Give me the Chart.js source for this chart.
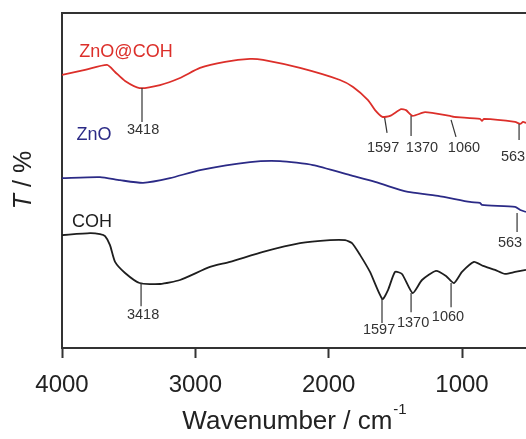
<!DOCTYPE html>
<html>
<head>
<meta charset="utf-8">
<script src="https://cdn.jsdelivr.net/npm/chart.js@4"></script>
<style>
  html, body { margin: 0; padding: 0; background: #fff; }
  #wrap { width: 526px; height: 439px; }
</style>
</head>
<body>
<div id="wrap"><canvas id="ftir"></canvas></div>
<script>
// Données (nombre d'onde en cm-1, T en unités arbitraires)
const WAVE_ZNOCOH = [4000, 3827, 3662, 3602, 3527, 3418, 3265, 3115, 2965, 2777, 2590, 2492, 2215, 1915, 1817, 1705, 1652, 1597, 1540, 1457, 1420, 1370, 1277, 1090, 1060, 865, 850, 835, 602, 563, 542, 520]
const T_ZNOCOH    = [81.5, 83.0, 84.5, 82.4, 79.7, 77.6, 78.5, 80.6, 83.6, 85.4, 86.3, 86.0, 83.6, 80.0, 77.9, 74.0, 71.0, 69.0, 69.3, 71.3, 71.0, 69.3, 70.4, 69.3, 69.0, 68.4, 67.8, 68.4, 67.5, 66.9, 67.5, 67.2]

const WAVE_ZNO = [4000, 3715, 3565, 3392, 3190, 2965, 2590, 2365, 2117, 1840, 1652, 1465, 1405, 1180, 940, 865, 850, 602, 563, 520]
const T_ZNO    = [50.7, 51.0, 50.1, 49.3, 50.7, 53.1, 55.5, 55.8, 54.6, 51.6, 49.6, 47.2, 46.6, 45.4, 43.6, 43.3, 42.7, 42.1, 41.2, 40.6]

const WAVE_COH = [4000, 3790, 3715, 3677, 3640, 3602, 3527, 3418, 3265, 3115, 2890, 2740, 2492, 2215, 1990, 1877, 1825, 1765, 1690, 1597, 1555, 1502, 1450, 1370, 1300, 1195, 1120, 1060, 1000, 910, 842, 752, 677, 602, 520]
const T_COH    = [33.7, 34.3, 34.0, 33.4, 30.7, 25.7, 22.4, 19.4, 19.1, 20.3, 24.2, 25.7, 28.7, 31.3, 32.2, 32.2, 31.3, 27.8, 22.7, 14.6, 17.3, 22.7, 22.1, 16.4, 20.3, 23.0, 21.5, 19.4, 22.7, 25.7, 24.5, 23.3, 22.1, 22.7, 23.3]

const X_TICKS = [4000, 3000, 2000, 1000]

// Pics annotés : [texte, nombre d'onde trait, T début, nombre d'onde fin, T fin, nombre d'onde texte, T texte]
const PEAKS = [
    ["3418", 3400, 77.6, 3400, 67.5, 3392, 65.1],
    ["1597", 1580, 68.7, 1562, 64.2, 1592, 59.7],
    ["1370", 1382, 69.3, 1382, 63.3, 1300, 59.7],
    ["1060", 1082, 68.1, 1045, 63.0, 985, 59.7],
    ["563", 572, 66.9, 572, 62.1, 617, 57.0],
    ["563", 587, 40.3, 587, 34.6, 640, 31.3],
    ["3418", 3407, 19.4, 3407, 12.5, 3392, 9.9],
    ["1597", 1600, 14.9, 1600, 7.5, 1622, 5.4],
    ["1370", 1382, 16.4, 1382, 10.7, 1367, 7.5],
    ["1060", 1082, 19.4, 1082, 12.2, 1105, 9.3]
]

// Noms des échantillons : [texte, nombre d'onde, T, couleur]
const NOMS = [
    ["ZnO@COH", 3520, 88.4, "#dc2f2a"],
    ["ZnO", 3760, 63.6, "#2b2a86"],
    ["COH", 3775, 37.6, "#1e1e1e"]
]

function pts(xs, ys) {
    return xs.map((x, i) => ({x: x, y: ys[i]}))
}

const POLICE = "'Liberation Sans', Arial, sans-serif"

// plugin maison pour les annotations + titres
const annotations = {
    id: "annotations",
    afterDatasetsDraw(chart) {
        const ctx = chart.ctx
        const sx = chart.scales.x
        const sy = chart.scales.y
        const area = chart.chartArea
        ctx.save()
        // cadre du haut
        ctx.strokeStyle = "#333"
        ctx.lineWidth = 2
        ctx.beginPath()
        ctx.moveTo(area.left - 1, area.top)
        ctx.lineTo(area.right, area.top)
        ctx.stroke()

        ctx.lineWidth = 1.2
        ctx.strokeStyle = "#333"
        ctx.fillStyle = "#333"
        ctx.font = "14.5px " + POLICE
        ctx.textAlign = "center"
        ctx.textBaseline = "middle"
        PEAKS.forEach(p => {
            ctx.beginPath()
            ctx.moveTo(sx.getPixelForValue(p[1]), sy.getPixelForValue(p[2]))
            ctx.lineTo(sx.getPixelForValue(p[3]), sy.getPixelForValue(p[4]))
            ctx.stroke()
            ctx.fillText(p[0], sx.getPixelForValue(p[5]), sy.getPixelForValue(p[6]))
        })

        ctx.font = "18px " + POLICE
        NOMS.forEach(n => {
            ctx.fillStyle = n[3]
            ctx.fillText(n[0], sx.getPixelForValue(n[1]), sy.getPixelForValue(n[2]))
        })

        // titre axe x avec exposant
        ctx.fillStyle = "#222"
        ctx.textAlign = "left"
        ctx.textBaseline = "alphabetic"
        ctx.font = "26px " + POLICE
        const base = "Wavenumber / cm"
        const w1 = ctx.measureText(base).width
        ctx.font = "15px " + POLICE
        const w2 = ctx.measureText("-1").width
        const x0 = (area.left + area.right) / 2 - (w1 + w2) / 2
        ctx.font = "26px " + POLICE
        ctx.fillText(base, x0, 429)
        ctx.font = "15px " + POLICE
        ctx.fillText("-1", x0 + w1 + 1, 414)

        // titre axe y : T en italique
        ctx.translate(24, 180)
        ctx.rotate(-Math.PI / 2)
        ctx.font = "italic 25px " + POLICE
        const wt = ctx.measureText("T").width
        ctx.font = "25px " + POLICE
        const wr = ctx.measureText(" / %").width
        ctx.textBaseline = "middle"
        ctx.font = "italic 25px " + POLICE
        ctx.fillText("T", -(wt + wr) / 2, 0)
        ctx.font = "25px " + POLICE
        ctx.fillText(" / %", -(wt + wr) / 2 + wt, 0)
        ctx.restore()
    }
}

const ftirCanvas = document.getElementById("ftir")
const ftirChart = new Chart(ftirCanvas, {
    type: "line",
    data: {
        datasets: [
            {data: pts(WAVE_ZNOCOH, T_ZNOCOH), borderColor: "#dc2f2a"},
            {data: pts(WAVE_ZNO, T_ZNO), borderColor: "#2b2a86"},
            {data: pts(WAVE_COH, T_COH), borderColor: "#1e1e1e"}
        ]
    },
    options: {
        responsive: true,
        maintainAspectRatio: false,
        animation: false,
        layout: {padding: {top: 13, right: 0, left: 0, bottom: 0}},
        elements: {
            line: {borderWidth: 1.8, tension: 0.2, fill: false},
            point: {radius: 0}
        },
        plugins: {
            legend: {display: false},
            tooltip: {enabled: false}
        },
        scales: {
            x: {
                type: "linear",
                reverse: true,
                min: 520,
                max: 4000,
                afterFit: s => { s.height = 91 },
                afterBuildTicks: s => { s.ticks = X_TICKS.map(v => ({value: v})) },
                grid: {drawOnChartArea: false, tickLength: 10, tickWidth: 2, color: "#333"},
                border: {color: "#333", width: 2},
                ticks: {
                    color: "#222",
                    padding: 13,
                    maxRotation: 0,
                    callback: v => String(v),
                    font: {family: POLICE, size: 24}
                }
            },
            y: {
                min: 0,
                max: 100,
                afterFit: s => { s.width = 62 },
                grid: {display: false},
                border: {color: "#333", width: 2},
                ticks: {display: false}
            }
        }
    },
    plugins: [annotations]
})
</script>
</body>
</html>
